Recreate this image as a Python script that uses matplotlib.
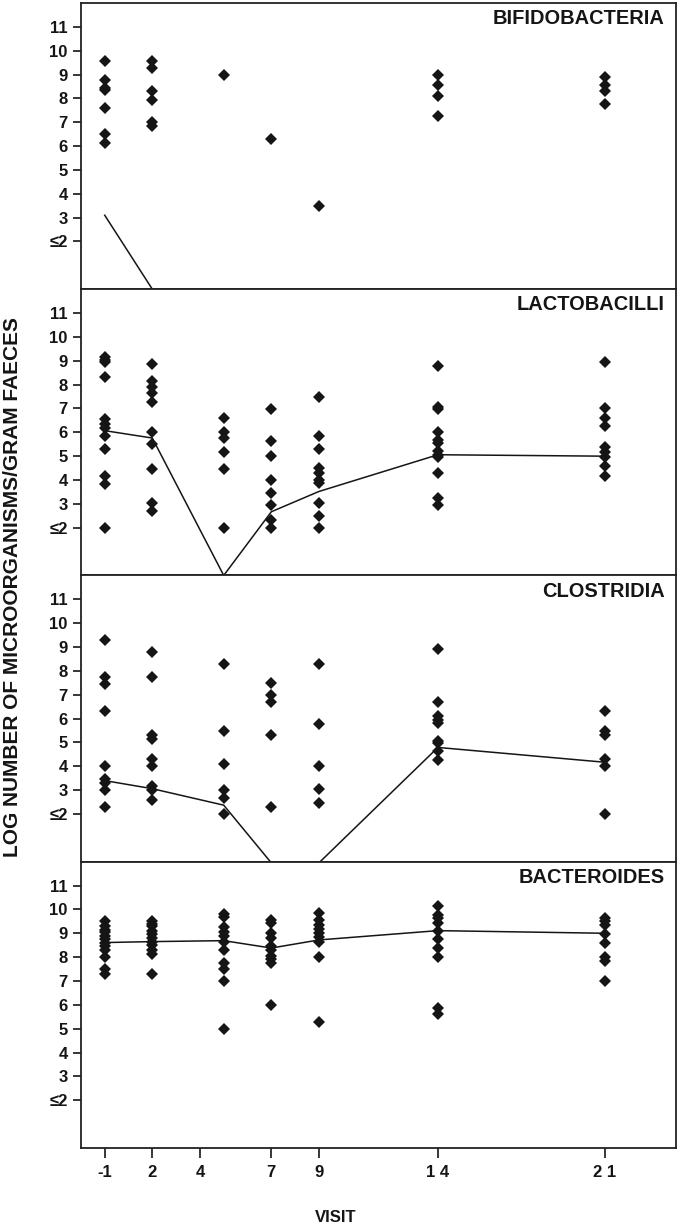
import numpy as np
import matplotlib
matplotlib.use("Agg")
import matplotlib.pyplot as plt

plt.rcParams['font.family'] = ['Liberation Sans', 'DejaVu Sans']
plt.rcParams['font.weight'] = 'bold'

# visit positions on the x scale (first column is labelled -1)
visit_pos = [0, 2, 5, 7, 9, 14, 21]
tick_pos = [0, 2, 4, 7, 9, 14, 21]
tick_labels = ["-1", "2", "4", "7", "9", "1 4", "2 1"]
y_ticks = [2, 3, 4, 5, 6, 7, 8, 9, 10, 11]
y_labels = ["≤2", "3", "4", "5", "6", "7", "8", "9", "10", "11"]

panel_names = ["BIFIDOBACTERIA", "LACTOBACILLI", "CLOSTRIDIA", "BACTEROIDES"]

bifido_points = [
    [9.56, 8.75, 8.44, 8.33, 7.6, 6.49, 6.14],
    [9.58, 9.28, 8.31, 7.94, 7.01, 6.83],
    [9.0],
    [6.28],
    [3.47],
    [9.0, 8.58, 8.11, 7.25],
    [8.89, 8.54, 8.31, 7.76],
]
bifido_line = [3.1, 0.0, np.nan, np.nan, np.nan, np.nan, np.nan]

lacto_points = [
    [9.15, 9.05, 8.95, 8.3, 6.55, 6.35, 6.2, 5.85, 5.3, 4.15, 3.85, 2.0],
    [8.85, 8.15, 7.92, 7.64, 7.29, 6.0, 5.5, 4.46, 3.04, 2.69],
    [6.59, 6.0, 5.76, 5.17, 4.46, 2.0],
    [6.98, 5.62, 4.99, 4.0, 3.46, 2.97, 2.34, 2.0],
    [7.47, 5.85, 5.28, 4.5, 4.29, 4.01, 3.87, 3.04, 2.48, 2.0],
    [8.8, 7.08, 6.98, 6.03, 5.68, 5.57, 5.2, 5.03, 4.95, 4.29, 3.25, 2.97],
    [8.96, 7.04, 6.59, 6.27, 5.38, 5.16, 4.95, 4.6, 4.15],
]
lacto_line = [6.07, 5.76, 0.0, 2.67, 3.52, 5.06, 5.0]

clost_points = [
    [9.3, 7.76, 7.44, 6.3, 4.0, 3.47, 3.3, 3.0, 2.3],
    [8.77, 7.76, 5.3, 5.14, 4.31, 4.0, 3.19, 3.0, 2.6],
    [8.3, 5.47, 4.11, 3.0, 2.66, 2.0],
    [7.49, 7.0, 6.69, 5.3, 2.28],
    [8.3, 5.77, 4.0, 3.06, 2.46],
    [8.91, 6.69, 6.09, 5.95, 5.81, 5.08, 4.97, 4.62, 4.27],
    [6.3, 5.49, 5.3, 4.31, 4.0, 2.0],
]
clost_line = [3.4, 3.06, 2.37, -0.05, -0.05, 4.79, 4.17]

bact_points = [
    [9.5, 9.3, 9.15, 9.05, 8.9, 8.75, 8.6, 8.45, 8.3, 8.0, 7.5, 7.3],
    [9.5, 9.4, 9.3, 9.1, 8.95, 8.8, 8.65, 8.5, 8.3, 8.15, 7.3],
    [9.8, 9.7, 9.25, 9.05, 8.9, 8.65, 8.3, 7.75, 7.5, 7.0, 5.0],
    [9.55, 9.45, 9.0, 8.8, 8.45, 8.3, 8.05, 7.9, 7.75, 6.0],
    [9.83, 9.56, 9.35, 9.17, 9.0, 8.83, 8.65, 8.0, 5.3],
    [10.14, 9.76, 9.63, 9.44, 9.11, 8.75, 8.38, 8.0, 5.88, 5.6],
    [9.66, 9.5, 9.33, 8.98, 8.59, 8.0, 7.85, 7.0],
]
bact_line = [8.61, 8.65, 8.69, 8.38, 8.72, 9.11, 9.0]

all_points = [bifido_points, lacto_points, clost_points, bact_points]
all_lines = [bifido_line, lacto_line, clost_line, bact_line]

ink = "#151515"

fig = plt.figure(figsize=(6.8, 12.25), dpi=100)
gs = fig.add_gridspec(4, 1, left=0.119, right=0.994, top=0.9976, bottom=0.0629, hspace=0)

for i in range(4):
    ax = fig.add_subplot(gs[i])
    for pos, vals in zip(visit_pos, all_points[i]):
        ax.plot([pos] * len(vals), vals, linestyle="none", marker="D",
                markersize=6.2, color=ink, markeredgewidth=0)
    ax.plot(visit_pos, all_lines[i], color=ink, linewidth=1.1)

    ax.set_xlim(-1, 24)
    ax.set_ylim(0, 12)
    ax.set_yticks(y_ticks)
    ax.set_yticklabels(y_labels, fontweight="bold")
    ax.tick_params(axis="y", direction="out", length=5.5, width=1.2,
                   labelsize=12, pad=4, colors=ink)
    for sp in ax.spines.values():
        sp.set_linewidth(1.3)
        sp.set_color("#222222")

    ax.text(0.981, 0.926, panel_names[i], transform=ax.transAxes,
            ha="right", va="baseline", fontsize=14.4, fontweight="bold", color=ink)

    if i < 3:
        ax.tick_params(axis="x", bottom=False, labelbottom=False)
    else:
        ax.set_xticks(tick_pos)
        ax.set_xticklabels(tick_labels, fontweight="bold")
        ax.tick_params(axis="x", direction="out", length=7, width=1.2,
                       labelsize=12, pad=5, colors=ink)

fig.text(0.019, 0.521, "LOG NUMBER OF MICROORGANISMS/GRAM FAECES", rotation=90,
         ha="center", va="center", fontsize=15, fontweight="bold", color=ink)
fig.text(0.494, 0.0065, "VISIT", ha="center", va="center",
         fontsize=12, fontweight="bold", color=ink)

fig.savefig("out.png", dpi=100)
